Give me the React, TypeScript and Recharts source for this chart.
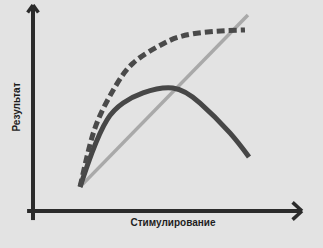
import { LineChart, Line, XAxis, YAxis, ReferenceLine } from 'recharts';

// Стимулирование (x) / Результат (y), условные единицы 0..100
const linearX = [17.5, 79.9];
const linearY = [11.7, 95.1];

const dashedX = [17.5, 20.4, 24.2, 30.5, 37.2, 46.1, 54.6, 65.8, 78.8];
const dashedY = [11.7, 28.2, 44.2, 60.2, 71.8, 79.6, 84.6, 87.0, 87.9];

const solidX = [17.5, 21.9, 27.5, 33.5, 40.9, 52.0, 62.1, 73.2, 80.3];
const solidY = [11.7, 28.2, 44.2, 52.4, 57.3, 59.7, 52.4, 37.9, 26.2];

const xLabel = 'Стимулирование';
const yLabel = 'Результат';

const toPoints = (xs: number[], ys: number[]) => xs.map((x, i) => ({ x, y: ys[i] }));

const AXIS = '#2b2b2b';
const FONT = '"Liberation Sans", Arial, sans-serif';

export default function App() {
  return (
    <div
      style={{
        position: 'absolute',
        left: 0,
        top: 0,
        width: 323,
        height: 248,
        background: '#e3e3e3',
        overflow: 'hidden',
      }}
    >
      <LineChart width={323} height={248} margin={{ top: 5, right: 21, bottom: 37, left: 33 }}>
        <XAxis type="number" dataKey="x" domain={[0, 100]} hide allowDataOverflow />
        <YAxis type="number" dataKey="y" domain={[0, 100]} hide allowDataOverflow />

        {/* axes with arrows */}
        <ReferenceLine segment={[{ x: 0, y: -4.4 }, { x: 0, y: 100 }]} stroke={AXIS} strokeWidth={4} ifOverflow="visible" />
        <ReferenceLine segment={[{ x: -2.2, y: 0 }, { x: 100, y: 0 }]} stroke={AXIS} strokeWidth={4} ifOverflow="visible" />
        <ReferenceLine segment={[{ x: -2, y: 96.4 }, { x: 0, y: 100 }]} stroke={AXIS} strokeWidth={3.5} ifOverflow="visible" />
        <ReferenceLine segment={[{ x: 2, y: 96.4 }, { x: 0, y: 100 }]} stroke={AXIS} strokeWidth={3.5} ifOverflow="visible" />
        <ReferenceLine segment={[{ x: 96.5, y: 4.2 }, { x: 100, y: 0 }]} stroke={AXIS} strokeWidth={3.5} ifOverflow="visible" />
        <ReferenceLine segment={[{ x: 96.5, y: -4.2 }, { x: 100, y: 0 }]} stroke={AXIS} strokeWidth={3.5} ifOverflow="visible" />

        <Line
          data={toPoints(linearX, linearY)}
          dataKey="y"
          type="linear"
          stroke="#a9a9a9"
          strokeWidth={3.5}
          dot={false}
          isAnimationActive={false}
        />
        <Line
          data={toPoints(solidX, solidY)}
          dataKey="y"
          type="natural"
          stroke="#474747"
          strokeWidth={5}
          dot={false}
          isAnimationActive={false}
        />
        <Line
          data={toPoints(dashedX, dashedY)}
          dataKey="y"
          type="natural"
          stroke="#4a4a4a"
          strokeWidth={5}
          strokeDasharray="8 4"
          dot={false}
          isAnimationActive={false}
        />
      </LineChart>

      <div
        style={{
          position: 'absolute',
          left: 128,
          top: 217,
          width: 90,
          textAlign: 'center',
          fontFamily: FONT,
          fontWeight: 'bold',
          fontSize: 10,
          color: '#1e1e1e',
          whiteSpace: 'nowrap',
        }}
      >
        {xLabel}
      </div>
      <div
        style={{
          position: 'absolute',
          left: 16,
          top: 107,
          transform: 'translate(-50%, -50%) rotate(-90deg)',
          fontFamily: FONT,
          fontWeight: 'bold',
          fontSize: 10,
          color: '#1e1e1e',
          whiteSpace: 'nowrap',
        }}
      >
        {yLabel}
      </div>
    </div>
  );
}
